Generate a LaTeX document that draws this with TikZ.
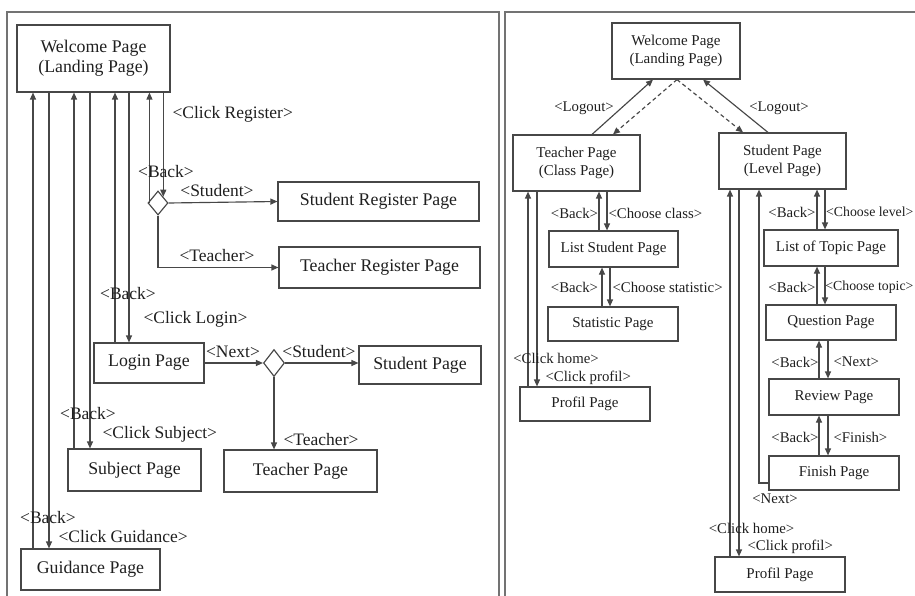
\documentclass[tikz,border=0pt]{standalone}
\usepackage{fontspec}
\setmainfont{Liberation Serif}
\usetikzlibrary{arrows.meta,shapes.geometric,calc}
\definecolor{ln}{gray}{0.28}
\definecolor{tx}{gray}{0.12}
\definecolor{fr}{gray}{0.45}
\begin{document}
\begin{tikzpicture}[x=1pt,y=-1pt,line width=1.15pt,
  lbox/.style={draw=ln,rectangle,inner sep=0pt,align=center,text=tx,font=\fontsize{17.8}{20}\selectfont},
  rbox/.style={draw=ln,rectangle,inner sep=0pt,align=center,text=tx,font=\fontsize{15}{17.5}\selectfont},
  dia/.style={draw=ln,diamond,inner sep=0pt,fill=white},
  lab/.style={inner sep=0pt,text=tx,font=\fontsize{17.5}{19}\selectfont},
  rlab/.style={inner sep=0pt,text=tx,font=\fontsize{14.8}{16}\selectfont},
  arr/.style={draw=ln,-{Triangle[length=7pt,width=6pt]}},
  dsh/.style={arr,dash pattern=on 4pt off 3pt},
  frame/.style={draw=fr,line width=1.2pt}]
\useasboundingbox (0,0) rectangle (915,596);
\clip (0,0) rectangle (915,596);
% frames
\draw[frame] (7,600) -- (7,12) -- (499,12) -- (499,600);
\draw[frame] (505,600) -- (505,12) -- (920,12);

% ---------------- left panel ----------------
\node[lbox,minimum width=153,minimum height=67] (LW) at (93.5,58.5) {Welcome Page\\(Landing Page)};
\node[lbox,minimum width=201,minimum height=39] (SRP) at (378.5,201.5) {Student Register Page};
\node[lbox,minimum width=201,minimum height=41] (TRP) at (379.5,267.5) {Teacher Register Page};
\node[dia,minimum width=20,minimum height=24] (D1) at (158,203) {};
\node[lbox,minimum width=110,minimum height=40] (LG) at (149,363) {Login Page};
\node[dia,minimum width=21,minimum height=27] (D2) at (274,363) {};
\node[lbox,minimum width=122,minimum height=38] (SP) at (420,365) {Student Page};
\node[lbox,minimum width=153,minimum height=42] (TP) at (300.5,471) {Teacher Page};
\node[lbox,minimum width=133,minimum height=42] (SU) at (134.5,470) {Subject Page};
\node[lbox,minimum width=139,minimum height=41] (GU) at (90.5,569.5) {Guidance Page};

\draw[arr] (D1.north east |- LW.south) -- (D1.north east);
\draw[arr] ([xshift=2]D1.west) -- ([xshift=2]D1.west |- LW.south);
\draw[arr] (D1.east) -- (SRP.west);
\draw[arr] (D1.south) |- (TRP.west);
\draw[arr] ([xshift=-34]LG.north) -- ([xshift=-34]LG.north |- LW.south);
\draw[arr] ([xshift=-20]LG.north |- LW.south) -- ([xshift=-20]LG.north);
\draw[arr] ([xshift=-60.5]SU.north) -- ([xshift=-60.5]SU.north |- LW.south);
\draw[arr] ([xshift=-44.5]SU.north |- LW.south) -- ([xshift=-44.5]SU.north);
\draw[arr] ([xshift=-57.5]GU.north) -- ([xshift=-57.5]GU.north |- LW.south);
\draw[arr] ([xshift=-41.5]GU.north |- LW.south) -- ([xshift=-41.5]GU.north);
\draw[arr] (LG.east) -- (D2.west);
\draw[arr] (D2.east) -- (D2.east -| SP.west);
\draw[arr] (D2.south) -- (D2.south |- TP.north);

\node[lab,anchor=west] (a1) at (172,114) {<Click Register>};
\node[lab] (a2) at (166,172) {<Back>};
\node[lab] (a3) at (217,191) {<Student>};
\node[lab] (a4) at (217,256) {<Teacher>};
\node[lab] (a5) at (128,294) {<Back>};
\node[lab,anchor=west] (a6) at (143,319) {<Click Login>};
\node[lab] (a7) at (233,352) {<Next>};
\node[lab] (a8) at (319,352) {<Student>};
\node[lab,anchor=west] (a9) at (283,440) {<Teacher>};
\node[lab] (a10) at (88,414) {<Back>};
\node[lab,anchor=west] (a11) at (102,434) {<Click Subject>};
\node[lab] (a12) at (48,518) {<Back>};
\node[lab,anchor=west] (a13) at (58,537) {<Click Guidance>};

% ---------------- right panel ----------------
\node[rbox,minimum width=128,minimum height=56] (RW) at (676,51) {Welcome Page\\(Landing Page)};
\node[rbox,minimum width=127,minimum height=56] (TPC) at (576.5,163) {Teacher Page\\(Class Page)};
\node[rbox,minimum width=127,minimum height=56] (SPL) at (782.5,161) {Student Page\\(Level Page)};
\node[rbox,minimum width=129,minimum height=36] (LSP) at (613.5,249) {List Student Page};
\node[rbox,minimum width=130,minimum height=34] (STP) at (613,324) {Statistic Page};
\node[rbox,minimum width=130,minimum height=34] (PPL) at (585,404) {Profil Page};
\node[rbox,minimum width=134,minimum height=36] (LTP) at (831,248) {List of Topic Page};
\node[rbox,minimum width=130,minimum height=35] (QP) at (831,322.5) {Question Page};
\node[rbox,minimum width=130,minimum height=36] (RP) at (834,397) {Review Page};
\node[rbox,minimum width=130,minimum height=34] (FP) at (834,473) {Finish Page};
\node[rbox,minimum width=130,minimum height=35] (PPR) at (780,574.5) {Profil Page};

\draw[arr] ([xshift=15.5]TPC.north) -- ([xshift=-23]RW.south);
\draw[dsh] ([xshift=1]RW.south) -- ([xshift=36.5]TPC.north);
\draw[dsh] ([xshift=1]RW.south) -- ([xshift=-39.5]SPL.north);
\draw[arr] ([xshift=-14.5]SPL.north) -- ([xshift=27]RW.south);

\draw[arr] ([xshift=-57]PPL.north) -- ([xshift=-57]PPL.north |- TPC.south);
\draw[arr] ([xshift=-48]PPL.north |- TPC.south) -- ([xshift=-48]PPL.north);
\draw[arr] ([xshift=-14.5]LSP.north) -- ([xshift=-14.5]LSP.north |- TPC.south);
\draw[arr] ([xshift=-6.5]LSP.north |- TPC.south) -- ([xshift=-6.5]LSP.north);
\draw[arr] ([xshift=-11]STP.north) -- ([xshift=-11]STP.north |- LSP.south);
\draw[arr] ([xshift=-3]STP.north |- LSP.south) -- ([xshift=-3]STP.north);

\draw[arr] ([xshift=-14]LTP.north) -- ([xshift=-14]LTP.north |- SPL.south);
\draw[arr] ([xshift=-6]LTP.north |- SPL.south) -- ([xshift=-6]LTP.north);
\draw[arr] ([xshift=-14]QP.north) -- ([xshift=-14]QP.north |- LTP.south);
\draw[arr] ([xshift=-6]QP.north |- LTP.south) -- ([xshift=-6]QP.north);
\draw[arr] ([xshift=-15]RP.north) -- ([xshift=-15]RP.north |- QP.south);
\draw[arr] ([xshift=-6]RP.north |- QP.south) -- ([xshift=-6]RP.north);
\draw[arr] ([xshift=-15]FP.north) -- ([xshift=-15]FP.north |- RP.south);
\draw[arr] ([xshift=-6]FP.north |- RP.south) -- ([xshift=-6]FP.north);
\draw[arr] ([yshift=-10]FP.west) -| ([xshift=-23.5]SPL.south);
\draw[arr] ([xshift=-50]PPR.north) -- ([xshift=-50]PPR.north |- SPL.south);
\draw[arr] ([xshift=-41]PPR.north |- SPL.south) -- ([xshift=-41]PPR.north);

\node[rlab] (b1) at (584,108) {<Logout>};
\node[rlab] (b2) at (779,108) {<Logout>};
\node[rlab] (b3) at (574.5,213) {<Back>};
\node[rlab,anchor=west] (b4) at (608,213) {<Choose class>};
\node[rlab] (b5) at (574.5,287) {<Back>};
\node[rlab,anchor=west] (b6) at (612,287) {<Choose statistic>};
\node[rlab] (b7) at (556,358) {<Click home>};
\node[rlab,anchor=west] (b8) at (545,378) {<Click profil>};
\node[rlab] (b9) at (792,212) {<Back>};
\node[rlab,anchor=east,font=\fontsize{13.8}{16}\selectfont] (b10) at (914,212) {<Choose level>};
\node[rlab] (b11) at (792,287) {<Back>};
\node[rlab,anchor=east,font=\fontsize{13.8}{16}\selectfont] (b12) at (914,287) {<Choose topic>};
\node[rlab] (b13) at (795,362) {<Back>};
\node[rlab,anchor=west] (b14) at (833,362) {<Next>};
\node[rlab] (b15) at (795,437) {<Back>};
\node[rlab,anchor=west] (b16) at (833,437) {<Finish>};
\node[rlab] (b17) at (775,499) {<Next>};
\node[rlab] (b18) at (751.5,528) {<Click home>};
\node[rlab,anchor=west] (b19) at (747,547) {<Click profil>};
\end{tikzpicture}
\end{document}
